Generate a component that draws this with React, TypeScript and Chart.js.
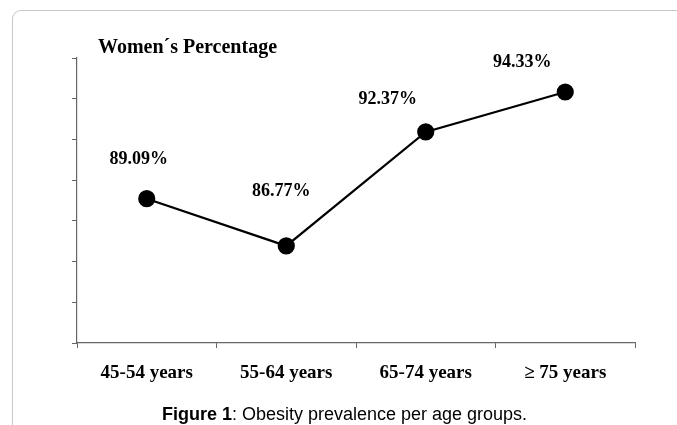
import React, { useEffect, useRef } from "react";
import { Chart, registerables } from "chart.js";

Chart.register(...registerables);

const categories = ["45-54 years", "55-64 years", "65-74 years", "\u2265 75 years"];
const percentages = [89.09, 86.77, 92.37, 94.33];
const valueLabels = ["89.09%", "86.77%", "92.37%", "94.33%"];
const yMin = 82;
const yMax = 96;
const yStep = 2;
const chartTitle = "Women\u00b4s Percentage";

// label placement relative to each point (style, not data)
const labelOffsets: [number, number][] = [
  [-8, -39],
  [-5, -55],
  [-38, -33],
  [-43, -30],
];

const SERIF = "'Liberation Serif', 'Times New Roman', serif";

const labelPlugin = {
  id: "valueLabels",
  afterDatasetsDraw(chart: any) {
    const ctx = chart.ctx;
    const meta = chart.getDatasetMeta(0);
    ctx.save();
    ctx.font = `bold 18px ${SERIF}`;
    ctx.fillStyle = "#000";
    ctx.textAlign = "center";
    ctx.textBaseline = "middle";
    meta.data.forEach((pt: any, i: number) => {
      const [dx, dy] = labelOffsets[i];
      ctx.fillText(valueLabels[i], pt.x + dx, pt.y + dy);
    });
    ctx.restore();
  },
};

export default function App() {
  const ref = useRef<HTMLCanvasElement>(null);
  useEffect(() => {
    if (!ref.current) return;
    const chart = new Chart(ref.current, {
      type: "line",
      data: {
        labels: categories,
        datasets: [
          {
            data: percentages,
            borderColor: "#000",
            borderWidth: 2.2,
            pointBackgroundColor: "#000",
            pointBorderColor: "#000",
            pointRadius: 7.5,
            tension: 0,
          },
        ],
      },
      options: {
        animation: false,
        responsive: false,
        devicePixelRatio: 1,
        layout: { padding: { left: 0, top: 58, right: 42, bottom: 0 } },
        plugins: {
          legend: { display: false },
          tooltip: { enabled: false },
          title: { display: false },
        },
        scales: {
          x: {
            type: "category",
            offset: true,
            grid: {
              offset: true,
              drawOnChartArea: false,
              drawTicks: true,
              tickLength: 5,
              color: "#666",
            },
            border: { color: "#666", width: 1.2 },
            ticks: {
              font: { family: SERIF, size: 19, weight: "bold" },
              color: "#000",
              padding: 14,
              maxRotation: 0,
            },
            afterFit: (s: any) => {
              s.height = 82;
            },
          },
          y: {
            min: yMin,
            max: yMax,
            ticks: { stepSize: yStep, display: false },
            grid: {
              drawOnChartArea: false,
              drawTicks: true,
              tickLength: 5,
              color: "#666",
            },
            border: { color: "#666", width: 1.2 },
            afterFit: (s: any) => {
              s.width = 77;
            },
          },
        },
      },
      plugins: [labelPlugin],
    });
    return () => chart.destroy();
  }, []);

  return (
    <div
      style={{
        position: "fixed",
        left: 0,
        top: 0,
        width: 677,
        height: 425,
        background: "#fff",
        overflow: "hidden",
      }}
    >
      <div
        style={{
          position: "absolute",
          left: 12,
          top: 10,
          width: 700,
          height: 440,
          borderLeft: "1.5px solid #c8c8c8",
          borderTop: "1.5px solid #c8c8c8",
          borderTopLeftRadius: 9,
        }}
      />
      <canvas
        ref={ref}
        width={677}
        height={425}
        style={{ position: "absolute", left: 0, top: 0, width: 677, height: 425 }}
      />
      <div
        style={{
          position: "absolute",
          left: 98,
          top: 33,
          fontFamily: SERIF,
          fontWeight: "bold",
          fontSize: 20,
          lineHeight: "26px",
          color: "#000",
          whiteSpace: "nowrap",
        }}
      >
        {chartTitle}
      </div>
      <div
        style={{
          position: "absolute",
          left: 0,
          width: 677,
          top: 404,
          textAlign: "center",
          fontFamily: "'Liberation Sans', Arial, sans-serif",
          fontSize: 18,
          lineHeight: "21px",
          color: "#000",
          whiteSpace: "nowrap",
          paddingLeft: 12,
          boxSizing: "border-box",
        }}
      >
        <b>Figure 1</b>: Obesity prevalence per age groups.
      </div>
    </div>
  );
}
